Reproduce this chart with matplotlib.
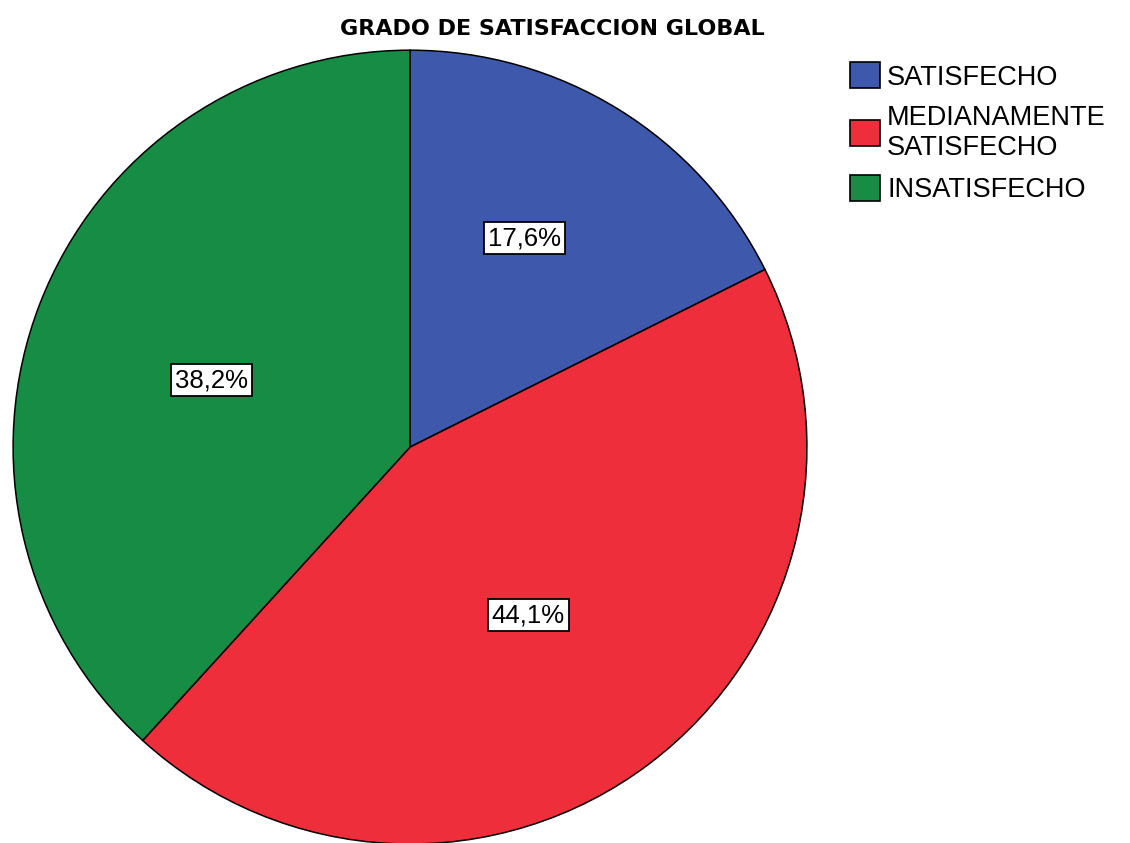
import math

import matplotlib
matplotlib.use("Agg")
import matplotlib.pyplot as plt
from matplotlib.patches import Patch

# Grado de satisfaccion global (%)
categorias = ["SATISFECHO", "MEDIANAMENTE\nSATISFECHO", "INSATISFECHO"]
porcentajes = [17.6, 44.1, 38.2]
colores = ["#3E58AC", "#EE2E3A", "#168C45"]
titulo = "GRADO DE SATISFACCION GLOBAL"

# placement of each percentage box: distance (fraction of radius)
# and angular nudge (degrees) from the wedge bisector
dist_etiquetas = [0.60, 0.518, 0.527]
giro_etiquetas = [3.0, -2.0, 2.5]


def main():
    plt.rcParams["font.family"] = ["Liberation Sans", "DejaVu Sans"]
    fig = plt.figure(figsize=(11.3, 8.43), dpi=100)
    ax = fig.add_axes([0, 0, 1, 1])

    # pie of radius 1 centred at the origin; limits leave room for the legend
    wedges, _ = ax.pie(
        porcentajes,
        colors=colores,
        startangle=90,
        counterclock=False,
        radius=1.0,
        wedgeprops=dict(edgecolor="black", linewidth=1.1),
    )
    for w, v, d, g in zip(wedges, porcentajes, dist_etiquetas, giro_etiquetas):
        ang = math.radians((w.theta1 + w.theta2) / 2 + g)
        ax.text(d * math.cos(ang), d * math.sin(ang),
                f"{v:.1f}%".replace(".", ","),
                ha="center", va="center", fontsize=18.5, color="black",
                bbox=dict(boxstyle="square,pad=0.15", facecolor="white",
                          edgecolor="black", linewidth=1.3))

    ax.set_xlim(-1.033, 1.814)
    ax.set_ylim(-0.997, 1.126)
    ax.set_aspect("equal")
    ax.axis("off")

    fig.text(0.489, 0.966, titulo, ha="center", va="center",
             fontsize=16, fontweight="bold",
             family=["Liberation Sans Narrow", "DejaVu Sans"])

    handles = [Patch(facecolor=c, edgecolor="black", linewidth=1.2) for c in colores]
    fig.legend(handles, categorias, loc="upper left",
               bbox_to_anchor=(0.752, 0.926), frameon=False,
               fontsize=19.5, handlelength=1.1, handleheight=1.1,
               handletextpad=0.28, labelspacing=0.52, borderpad=0,
               borderaxespad=0)

    fig.savefig("out.png", dpi=100)


if __name__ == "__main__":
    main()
